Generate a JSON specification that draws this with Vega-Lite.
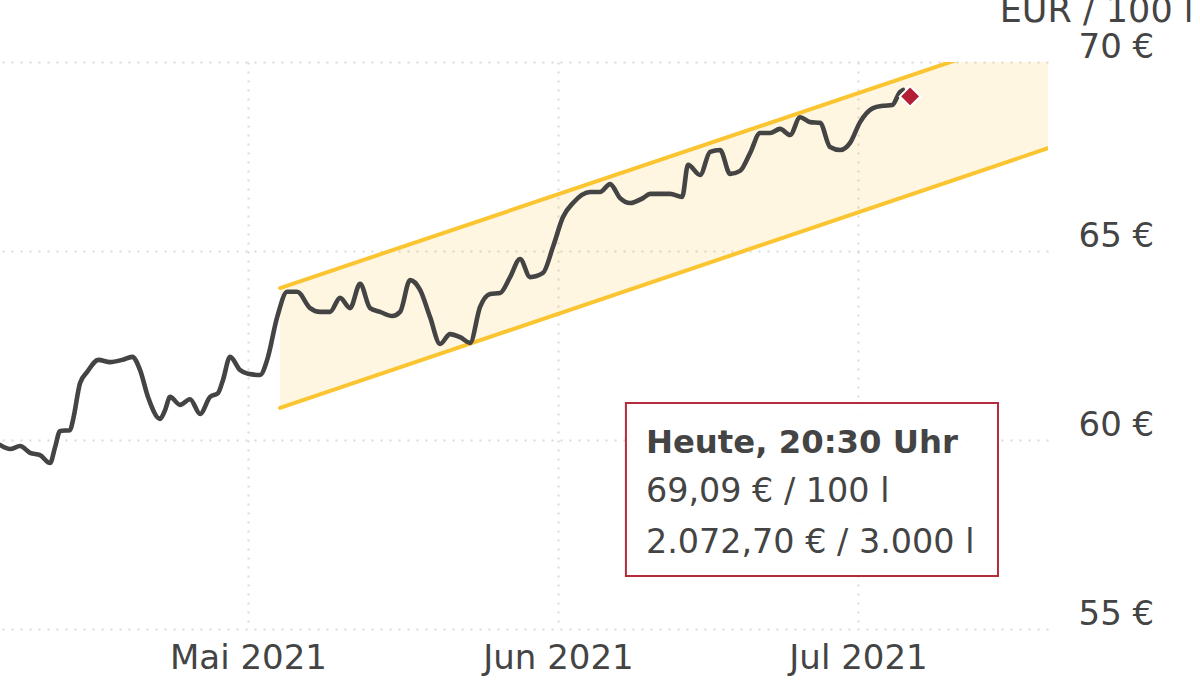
{
  "$schema": "https://vega.github.io/schema/vega-lite/v6.json",
  "width": 1048,
  "height": 567,
  "autosize": {"type": "none"},
  "padding": {"top": 62, "left": 0, "right": 152, "bottom": 59},
  "background": "white",
  "config": {
    "view": {"stroke": null},
    "font": "DejaVu Sans",
    "axis": {
      "labelFont": "DejaVu Sans",
      "labelColor": "#444444",
      "labelFontSize": 34,
      "domain": false,
      "ticks": false,
      "tickSize": 0,
      "gridColor": "#d9d9d9",
      "gridDash": [2, 7],
      "gridWidth": 2,
      "labelFlush": false,
      "labelOverlap": false,
      "titleFont": "DejaVu Sans",
      "titleColor": "#444444",
      "titleFontWeight": "normal"
    }
  },
  "datasets": {
    "price": [
      {"date": "2021-04-06T05:00", "price": 59.87},
      {"date": "2021-04-07T05:00", "price": 59.76},
      {"date": "2021-04-08T05:00", "price": 59.84},
      {"date": "2021-04-09T05:00", "price": 59.66},
      {"date": "2021-04-10T05:00", "price": 59.60},
      {"date": "2021-04-11T05:00", "price": 59.39},
      {"date": "2021-04-11T17:00", "price": 59.81},
      {"date": "2021-04-12T05:00", "price": 60.24},
      {"date": "2021-04-13T05:00", "price": 60.26},
      {"date": "2021-04-13T12:00", "price": 60.53},
      {"date": "2021-04-14T05:00", "price": 61.51},
      {"date": "2021-04-14T22:00", "price": 61.80},
      {"date": "2021-04-16T01:00", "price": 62.12},
      {"date": "2021-04-17T05:00", "price": 62.06},
      {"date": "2021-04-18T10:00", "price": 62.12},
      {"date": "2021-04-19T10:00", "price": 62.20},
      {"date": "2021-04-20T05:00", "price": 61.85},
      {"date": "2021-04-21T00:00", "price": 61.14},
      {"date": "2021-04-22T05:00", "price": 60.56},
      {"date": "2021-04-22T17:00", "price": 60.79},
      {"date": "2021-04-23T05:00", "price": 61.14},
      {"date": "2021-04-24T05:00", "price": 60.93},
      {"date": "2021-04-25T05:00", "price": 61.08},
      {"date": "2021-04-26T05:00", "price": 60.69},
      {"date": "2021-04-27T05:00", "price": 61.14},
      {"date": "2021-04-28T00:00", "price": 61.24},
      {"date": "2021-04-28T12:00", "price": 61.59},
      {"date": "2021-04-29T05:00", "price": 62.20},
      {"date": "2021-04-30T05:00", "price": 61.85},
      {"date": "2021-05-01T00:00", "price": 61.75},
      {"date": "2021-05-02T05:00", "price": 61.72},
      {"date": "2021-05-02T22:00", "price": 62.12},
      {"date": "2021-05-03T22:00", "price": 63.25},
      {"date": "2021-05-04T22:00", "price": 63.92},
      {"date": "2021-05-05T22:00", "price": 63.92},
      {"date": "2021-05-07T05:00", "price": 63.49},
      {"date": "2021-05-08T05:00", "price": 63.39},
      {"date": "2021-05-09T05:00", "price": 63.39},
      {"date": "2021-05-10T05:00", "price": 63.76},
      {"date": "2021-05-11T05:00", "price": 63.49},
      {"date": "2021-05-12T05:00", "price": 64.13},
      {"date": "2021-05-13T05:00", "price": 63.49},
      {"date": "2021-05-14T05:00", "price": 63.39},
      {"date": "2021-05-15T10:00", "price": 63.28},
      {"date": "2021-05-16T05:00", "price": 63.39},
      {"date": "2021-05-17T05:00", "price": 64.23},
      {"date": "2021-05-18T05:00", "price": 63.97},
      {"date": "2021-05-19T05:00", "price": 63.25},
      {"date": "2021-05-20T05:00", "price": 62.54},
      {"date": "2021-05-21T05:00", "price": 62.80},
      {"date": "2021-05-22T05:00", "price": 62.72},
      {"date": "2021-05-23T05:00", "price": 62.57},
      {"date": "2021-05-24T05:00", "price": 63.52},
      {"date": "2021-05-25T05:00", "price": 63.86},
      {"date": "2021-05-26T05:00", "price": 63.89},
      {"date": "2021-05-27T05:00", "price": 64.31},
      {"date": "2021-05-28T05:00", "price": 64.79},
      {"date": "2021-05-29T05:00", "price": 64.31},
      {"date": "2021-05-30T12:00", "price": 64.42},
      {"date": "2021-05-31T12:00", "price": 65.11},
      {"date": "2021-06-01T12:00", "price": 65.90},
      {"date": "2021-06-02T12:00", "price": 66.27},
      {"date": "2021-06-04T05:00", "price": 66.56},
      {"date": "2021-06-05T05:00", "price": 66.56},
      {"date": "2021-06-06T05:00", "price": 66.77},
      {"date": "2021-06-07T05:00", "price": 66.40},
      {"date": "2021-06-08T05:00", "price": 66.27},
      {"date": "2021-06-09T12:00", "price": 66.40},
      {"date": "2021-06-10T05:00", "price": 66.51},
      {"date": "2021-06-12T05:00", "price": 66.51},
      {"date": "2021-06-13T10:00", "price": 66.43},
      {"date": "2021-06-14T00:00", "price": 67.28},
      {"date": "2021-06-15T05:00", "price": 67.01},
      {"date": "2021-06-16T05:00", "price": 67.62},
      {"date": "2021-06-17T05:00", "price": 67.67},
      {"date": "2021-06-18T05:00", "price": 67.04},
      {"date": "2021-06-19T05:00", "price": 67.12},
      {"date": "2021-06-20T05:00", "price": 67.59},
      {"date": "2021-06-21T05:00", "price": 68.12},
      {"date": "2021-06-22T05:00", "price": 68.12},
      {"date": "2021-06-23T05:00", "price": 68.23},
      {"date": "2021-06-24T05:00", "price": 68.07},
      {"date": "2021-06-25T05:00", "price": 68.54},
      {"date": "2021-06-26T05:00", "price": 68.41},
      {"date": "2021-06-27T05:00", "price": 68.39},
      {"date": "2021-06-28T05:00", "price": 67.75},
      {"date": "2021-06-29T05:00", "price": 67.67},
      {"date": "2021-06-30T05:00", "price": 67.86},
      {"date": "2021-07-01T05:00", "price": 68.41},
      {"date": "2021-07-02T12:00", "price": 68.78},
      {"date": "2021-07-03T12:00", "price": 68.84},
      {"date": "2021-07-04T10:00", "price": 68.86},
      {"date": "2021-07-05T05:00", "price": 69.21},
      {"date": "2021-07-05T12:00", "price": 69.26}
    ],
    "band": [
      {"date": "2021-05-04T05:00", "upper": 64.02, "lower": 60.85},
      {"date": "2021-07-20T00:00", "upper": 70.87, "lower": 67.72}
    ],
    "today": [
      {"date": "2021-07-06T05:00", "price": 69.09}
    ]
  },
  "layer": [
    {
      "data": {"name": "band"},
      "mark": {"type": "area", "color": "#fbc531", "opacity": 0.15, "clip": true},
      "encoding": {
        "x": {
          "field": "date",
          "type": "temporal",
          "title": null,
          "scale": {"domain": [{"year": 2021, "month": 4, "date": 6, "hours": 4, "minutes": 48}, {"year": 2021, "month": 7, "date": 20}]},
          "axis": {
            "grid": true,
            "values": [{"year": 2021, "month": 5, "date": 1}, {"year": 2021, "month": 6, "date": 1}, {"year": 2021, "month": 7, "date": 1}],
            "labelExpr": "['Jan','Feb','Mär','Apr','Mai','Jun','Jul','Aug','Sep','Okt','Nov','Dez'][month(datum.value)] + ' ' + year(datum.value)",
            "labelPadding": 12,
            "labelBaseline": "top"
          }
        },
        "y": {
          "field": "upper",
          "type": "quantitative",
          "title": "EUR / 100 l",
          "scale": {"domain": [55, 70], "nice": false, "zero": false},
          "axis": {
            "orient": "right",
            "grid": true,
            "values": [55, 60, 65, 70],
            "labelExpr": "datum.value + ' €'",
            "labelPadding": 30,
            "labelAlign": "left",
            "labelBaseline": "alphabetic",
            "labelOffset": -5,
            "titleAngle": 0,
            "titleAlign": "right",
            "titleBaseline": "alphabetic",
            "titleFontSize": 35,
            "titleX": 145,
            "titleY": -41
          }
        },
        "y2": {"field": "lower"}
      }
    },
    {
      "data": {"name": "band"},
      "mark": {"type": "line", "color": "#fbc531", "strokeWidth": 4, "strokeCap": "round", "clip": true},
      "encoding": {
        "x": {"field": "date", "type": "temporal", "title": null},
        "y": {"field": "upper", "type": "quantitative", "title": "EUR / 100 l"}
      }
    },
    {
      "data": {"name": "band"},
      "mark": {"type": "line", "color": "#fbc531", "strokeWidth": 4, "strokeCap": "round", "clip": true},
      "encoding": {
        "x": {"field": "date", "type": "temporal", "title": null},
        "y": {"field": "lower", "type": "quantitative", "title": "EUR / 100 l"}
      }
    },
    {
      "data": {"name": "price"},
      "mark": {"type": "line", "color": "#444444", "strokeWidth": 4.6, "interpolate": "monotone", "strokeCap": "round", "strokeJoin": "round"},
      "encoding": {
        "x": {"field": "date", "type": "temporal", "title": null},
        "y": {"field": "price", "type": "quantitative", "title": "EUR / 100 l"}
      }
    },
    {
      "data": {"name": "today"},
      "mark": {"type": "point", "shape": "diamond", "size": 420, "filled": true, "color": "#b51f36", "stroke": "white", "strokeWidth": 2, "opacity": 1},
      "encoding": {
        "x": {"field": "date", "type": "temporal", "title": null},
        "y": {"field": "price", "type": "quantitative", "title": "EUR / 100 l"}
      }
    },
    {
      "data": {"values": [{"note": "Heute"}]},
      "mark": {"type": "rect", "fill": "white", "fillOpacity": 0.85, "stroke": "#b52b3c", "strokeWidth": 2},
      "encoding": {
        "x": {"datum": {"year": 2021, "month": 6, "date": 7, "hours": 19}, "type": "temporal"},
        "x2": {"datum": {"year": 2021, "month": 7, "date": 15}},
        "y": {"datum": 60.98, "type": "quantitative"},
        "y2": {"datum": 56.40}
      }
    },
    {
      "data": {"values": [{"line": "Heute, 20:30 Uhr"}]},
      "mark": {"type": "text", "align": "left", "baseline": "alphabetic", "font": "DejaVu Sans", "fontSize": 32.3, "fontWeight": "bold", "color": "#444444"},
      "encoding": {
        "x": {"datum": {"year": 2021, "month": 6, "date": 9, "hours": 19}, "type": "temporal"},
        "y": {"datum": 59.66, "type": "quantitative"},
        "text": {"field": "line"}
      }
    },
    {
      "data": {"values": [{"line": "69,09 € / 100 l"}]},
      "mark": {"type": "text", "align": "left", "baseline": "alphabetic", "font": "DejaVu Sans", "fontSize": 33.4, "color": "#444444"},
      "encoding": {
        "x": {"datum": {"year": 2021, "month": 6, "date": 9, "hours": 19}, "type": "temporal"},
        "y": {"datum": 58.36, "type": "quantitative"},
        "text": {"field": "line"}
      }
    },
    {
      "data": {"values": [{"line": "2.072,70 € / 3.000 l"}]},
      "mark": {"type": "text", "align": "left", "baseline": "alphabetic", "font": "DejaVu Sans", "fontSize": 33.4, "color": "#444444"},
      "encoding": {
        "x": {"datum": {"year": 2021, "month": 6, "date": 9, "hours": 19}, "type": "temporal"},
        "y": {"datum": 57.01, "type": "quantitative"},
        "text": {"field": "line"}
      }
    }
  ]
}
